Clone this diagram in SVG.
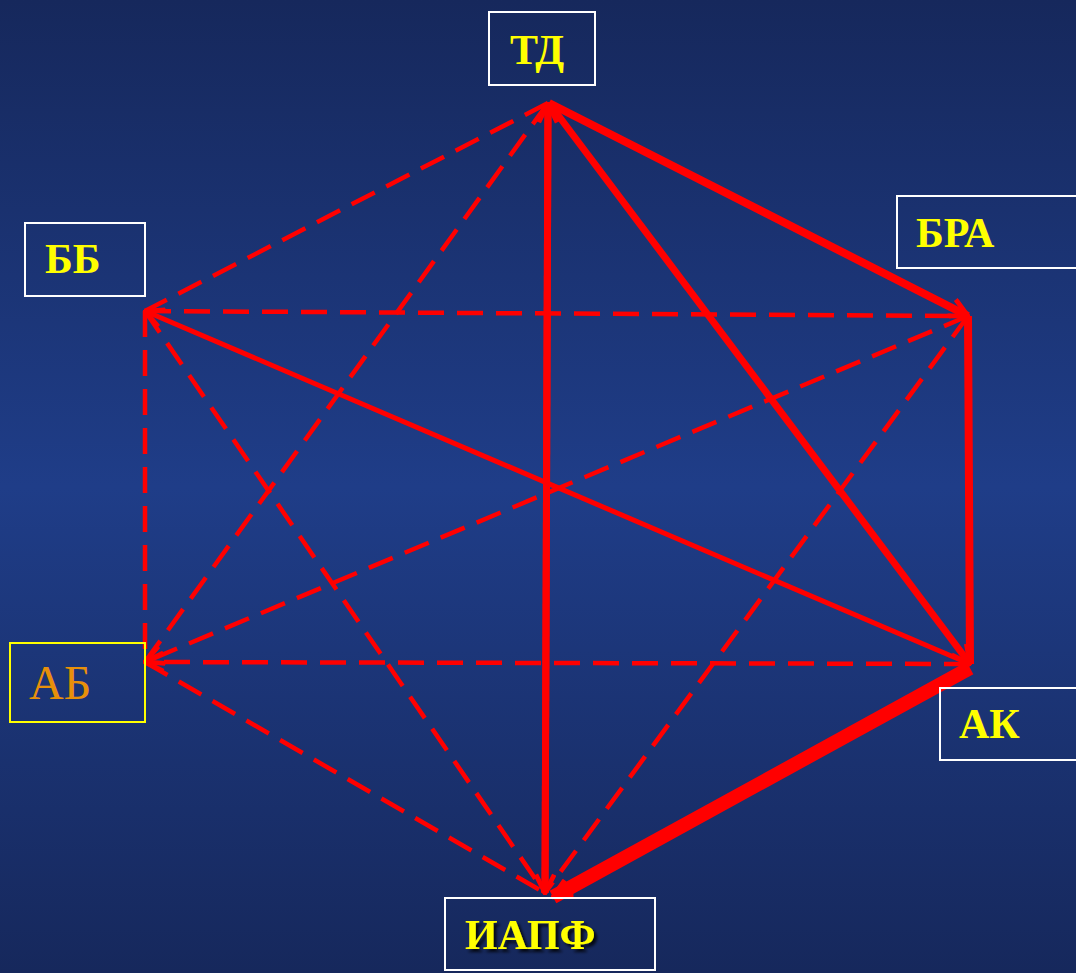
<svg xmlns="http://www.w3.org/2000/svg" width="1076" height="973" viewBox="0 0 1076 973">
  <defs>
    <linearGradient id="bg" x1="0" y1="0" x2="0" y2="1">
      <stop offset="0" stop-color="#16285c"/>
      <stop offset="0.5" stop-color="#1f3d88"/>
      <stop offset="1" stop-color="#16285c"/>
    </linearGradient>
    <marker id="vee" viewBox="0 0 12 12" refX="11" refY="6" markerWidth="22" markerHeight="22" markerUnits="userSpaceOnUse" orient="auto">
      <path d="M1,1 L11,6 L1,11" fill="none" stroke="#ff0000" stroke-width="2.6"/>
    </marker>
    <filter id="shadow" x="-10%" y="-20%" width="130%" height="150%">
      <feDropShadow dx="3" dy="3" stdDeviation="1.5" flood-color="#000" flood-opacity="0.8"/>
    </filter>
  </defs>
  <style>
    .box { fill: none; stroke: #ffffff; stroke-width: 2; }
    .lbl { font-family: "Liberation Serif", "Times New Roman", serif; font-size: 42px; font-weight: bold; fill: #ffff00; }
    .solid { stroke: #ff0000; fill: none; stroke-linecap: butt; }
    .dash { stroke: #ff0000; fill: none; stroke-width: 4.5; stroke-dasharray: 26 13; }
  </style>

  <rect x="0" y="0" width="1076" height="973" fill="url(#bg)"/>

  <!-- connectors -->
  <g id="connectors">
    <!-- dashed links -->
    <line class="dash" x1="548" y1="103" x2="145" y2="311"/>
    <line class="dash" x1="548" y1="103" x2="145" y2="662"/>
    <line class="dash" x1="145" y1="311" x2="968" y2="316"/>
    <line class="dash" x1="145" y1="311" x2="145" y2="662"/>
    <line class="dash" x1="145" y1="311" x2="545" y2="893"/>
    <line class="dash" x1="968" y1="316" x2="145" y2="662" marker-end="url(#vee)"/>
    <line class="dash" x1="968" y1="316" x2="545" y2="893"/>
    <line class="dash" x1="970" y1="664" x2="145" y2="662" marker-end="url(#vee)"/>
    <line class="dash" x1="145" y1="662" x2="545" y2="893"/>
    <!-- solid links -->
    <line class="solid" stroke-width="7" x1="545" y1="893" x2="548" y2="104" marker-end="url(#vee)"/>
    <line class="solid" stroke-width="7" x1="548" y1="103" x2="545" y2="893" marker-end="url(#vee)"/>
    <line class="solid" stroke-width="8" x1="549" y1="103" x2="968" y2="316" marker-end="url(#vee)"/>
    <line class="solid" stroke-width="7" x1="549" y1="103" x2="970" y2="664" marker-end="url(#vee)"/>
    <line class="solid" stroke-width="8" x1="968" y1="316" x2="970" y2="664"/>
    <line class="solid" stroke-width="5" x1="970" y1="664" x2="145" y2="311" marker-end="url(#vee)"/>
    <line class="solid" stroke-width="14" x1="970" y1="668" x2="553" y2="897" marker-end="url(#vee)"/>
  </g>

  <!-- nodes -->
  <g id="node-td">
    <rect class="box" x="489" y="12" width="106" height="73"/>
    <text class="lbl" x="510" y="64">ТД</text>
  </g>
  <g id="node-bb">
    <rect class="box" x="25" y="223" width="120" height="73"/>
    <text class="lbl" x="45" y="273">ББ</text>
  </g>
  <g id="node-bra">
    <rect class="box" x="897" y="196" width="182" height="72"/>
    <text class="lbl" x="916" y="247">БРА</text>
  </g>
  <g id="node-ab">
    <rect x="10" y="643" width="135" height="79" fill="none" stroke="#ffff00" stroke-width="2"/>
    <text x="29" y="699" font-family="'Liberation Serif', 'Times New Roman', serif" font-size="48" fill="#e8900a">АБ</text>
  </g>
  <g id="node-ak">
    <rect class="box" x="940" y="688" width="139" height="72"/>
    <text class="lbl" x="959" y="738">АК</text>
  </g>
  <g id="node-iapf">
    <rect class="box" x="445" y="898" width="210" height="72"/>
    <text class="lbl" x="465" y="949" filter="url(#shadow)">ИАПФ</text>
  </g>
</svg>
